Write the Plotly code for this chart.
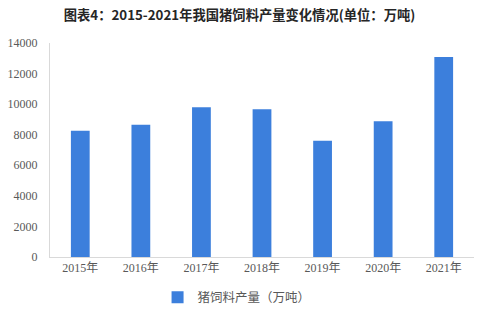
import plotly.graph_objects as go

years = ["2015年", "2016年", "2017年", "2018年", "2019年", "2020年", "2021年"]
output = [8260, 8650, 9790, 9660, 7610, 8880, 13080]
series_name = "猪饲料产量（万吨）"
title_text = "图表4：2015-2021年我国猪饲料产量变化情况(单位：万吨)"
y_ticks = [0, 2000, 4000, 6000, 8000, 10000, 12000, 14000]
y_tick_labels = [str(v) for v in y_ticks]

fig = go.Figure()
fig.add_trace(go.Bar(
    x=years, y=output, name=series_name,
    marker=dict(color="#3C7FDC", line=dict(width=0)),
    width=0.31,
))

fig.update_layout(
    width=479, height=315,
    margin=dict(l=50, r=5, t=43, b=58, autoexpand=False),
    paper_bgcolor="white", plot_bgcolor="white",
    title=dict(text="<b>" + title_text + "</b>", x=0.5, xanchor="center",
               y=1 - 15 / 315, yanchor="middle",
               font=dict(family="Noto Sans CJK SC", size=13.3, color="#262626")),
    showlegend=True,
    legend=dict(orientation="h", x=0.44, xanchor="center", y=-0.19, yanchor="middle",
                font=dict(family="Noto Sans CJK SC", size=12.5, color="#595959"),
                itemwidth=30),
    xaxis=dict(showline=True, linecolor="#D9D9D9", linewidth=1, ticks="",
               tickfont=dict(family="Liberation Serif, Noto Sans CJK SC", size=12, color="#595959"),
               showgrid=False),
    yaxis=dict(range=[0, 14000], tickvals=y_ticks, ticktext=y_tick_labels,
               showgrid=False, zeroline=False,
               showline=True, linecolor="#D9D9D9", linewidth=1, ticks="",
               ticklabelstandoff=9,
               tickfont=dict(family="Liberation Serif", size=12, color="#595959")),
    bargap=0.69,
)

fig.write_html("out.html")
